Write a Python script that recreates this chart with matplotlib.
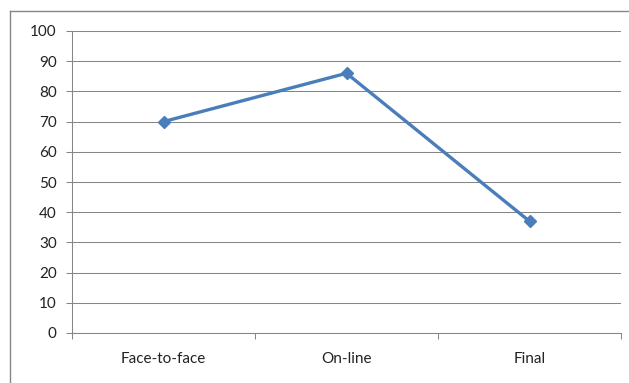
import matplotlib.pyplot as plt
from matplotlib.lines import Line2D

plt.rcParams['font.family'] = ['Lato', 'DejaVu Sans']

categories = ['Face-to-face', 'On-line', 'Final']
scores = [70, 86, 37]
y_ticks = list(range(0, 101, 10))

W, H = 629, 383
fig = plt.figure(figsize=(W / 100, H / 100), dpi=100)
ax = fig.add_axes([72 / W, 50 / H, 549 / W, 302 / H])

grid_col = '#868686'
line_col = '#4A7EBB'

x = list(range(len(categories)))
ax.plot(x, scores, color=line_col, linewidth=2.4, marker='D', markersize=6.5,
        markeredgecolor=line_col, markerfacecolor=line_col, zorder=3)

ax.set_xlim(-0.5, len(categories) - 0.5)
ax.set_ylim(0, 100)
ax.set_yticks(y_ticks)
ax.yaxis.grid(True, color=grid_col, linewidth=0.75)
ax.set_axisbelow(True)

ax.set_xticks(x)
ax.set_xticklabels(categories)
ax.set_xticks([i - 0.5 for i in range(len(categories) + 1)], minor=True)
ax.tick_params(axis='x', which='major', length=0, pad=14, labelsize=11, labelcolor='#222222')
ax.tick_params(axis='x', which='minor', length=4, width=0.75, color=grid_col, direction='out')
ax.tick_params(axis='y', length=4, width=0.75, color=grid_col, pad=7, labelsize=11, labelcolor='#222222')

for side in ('top', 'right'):
    ax.spines[side].set_visible(False)
for side in ('left', 'bottom'):
    ax.spines[side].set_color(grid_col)
    ax.spines[side].set_linewidth(0.75)

# chart border (top and left edges visible)
fig.add_artist(Line2D([10 / W, 1], [1 - 11 / H] * 2, transform=fig.transFigure,
                      color=grid_col, linewidth=1.0))
fig.add_artist(Line2D([10 / W] * 2, [0, 1 - 11 / H], transform=fig.transFigure,
                      color=grid_col, linewidth=1.0))

fig.savefig('out.png', dpi=100)
